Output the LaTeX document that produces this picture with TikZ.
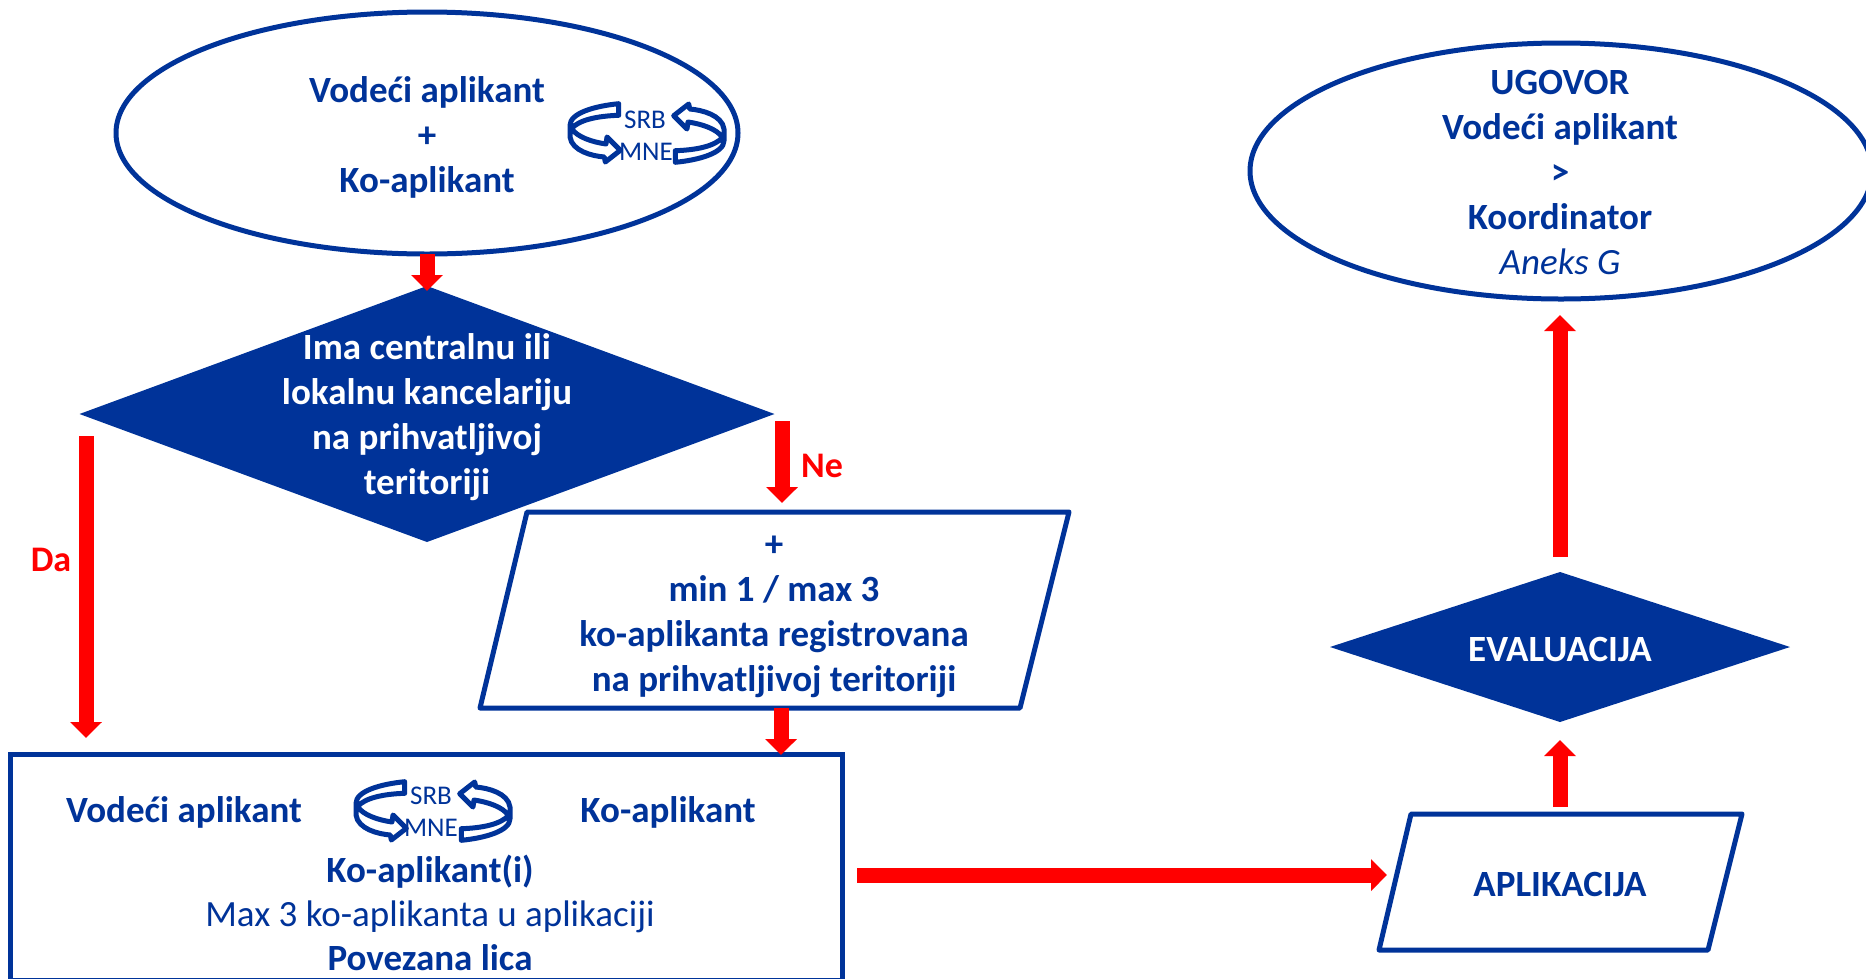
\documentclass[tikz,border=0pt]{standalone}
\usepackage{fontspec}
\setmainfont{Carlito}
\usetikzlibrary{shapes.geometric,arrows.meta}
\definecolor{ipablue}{HTML}{003399}
\definecolor{flowred}{HTML}{FF0000}
\tikzset{
  x=1pt,y=-1pt,
  outline/.style={draw=ipablue,line width=5pt,fill=white,inner sep=0pt,outer sep=0pt},
  oval/.style={outline,ellipse},
  frame/.style={outline,rectangle},
  slanted/.style={draw=ipablue,line width=5pt,fill=white,line join=round},
  decision/.style={diamond,fill=ipablue,inner sep=0pt,outer sep=0pt},
  bluetext/.style={text=ipablue,font=\fontsize{37}{45}\selectfont\bfseries,align=center,inner sep=0pt},
  whitetext/.style={text=white,font=\fontsize{37}{45}\selectfont\bfseries,align=center,inner sep=0pt},
  plaintext/.style={text=ipablue,font=\fontsize{37}{45}\selectfont,align=center,inner sep=0pt},
  flowlabel/.style={text=flowred,font=\fontsize{36}{38}\selectfont\bfseries,inner sep=0pt},
  icontext/.style={text=ipablue,font=\fontsize{27}{27}\selectfont,inner sep=0pt},
  flow/.style={draw=flowred,line width=15pt,-{Triangle[width=31pt,length=16pt,fill=flowred]}},
  swirl/.pic={
    \foreach \r in {0,180}{
      \draw[ipablue,line width=5pt,line join=round,rotate=\r]
        (-28.3,-29.3) .. controls (-52,-27) and (-77,-20) .. (-77,-7.7)
        -- (-77,4) .. controls (-75,18) and (-55,23) .. (-42.7,24)
        -- (-41.7,29) -- (-26.7,17.3) -- (-40,4) -- (-41,11)
        .. controls (-55,9) and (-70,4) .. (-75.5,-4.5)
        .. controls (-68,-13) and (-50,-17) .. (-28.3,-17.7) -- cycle;
    }
  }
}
\begin{document}
\begin{tikzpicture}
\useasboundingbox (0,0) rectangle (1866,978);

% shapes
\node[oval,minimum width=622pt,minimum height=242pt] (start) at (427,133) {};
\node[decision,minimum width=695pt,minimum height=256pt] (check) at (427,414) {};
\coordinate (coA) at (527,512);
\coordinate (coB) at (1069,512);
\coordinate (coC) at (1020,708);
\coordinate (coD) at (480,708);
\draw[slanted] (coA) -- (coB) -- (coC) -- (coD) -- cycle;
\node[frame,minimum width=832pt,minimum height=226pt] (team) at (426,867) {};
\coordinate (apA) at (1411,814);
\coordinate (apB) at (1742,814);
\coordinate (apC) at (1708,950);
\coordinate (apD) at (1379,950);
\draw[slanted] (apA) -- (apB) -- (apC) -- (apD) -- cycle;
\node[decision,minimum width=460pt,minimum height=150pt] (eval) at (1560,647) {};
\node[oval,minimum width=622pt,minimum height=256pt] (contract) at (1561,171) {};

% texts
\node[bluetext] (startT) at (427,137) {Vodeći aplikant\\+\\Ko-aplikant};
\node[whitetext] (checkT) at (427,417) {Ima centralnu ili\\lokalnu kancelariju\\na prihvatljivoj\\teritoriji};
\node[bluetext] (coappT) at (774,617) {+\\min 1 / max 3\\ko-aplikanta registrovana\\na prihvatljivoj teritoriji};
\node[bluetext] (lead) at (184,812) {Vodeći aplikant};
\node[bluetext] (co) at (668,812) {Ko-aplikant};
\node[bluetext] (coi) at (430,872) {Ko-aplikant(i)};
\node[plaintext] (max) at (430,917) {Max 3 ko-aplikanta u aplikaciji};
\node[bluetext] (rel) at (430,958) {Povezana lica};
\node[bluetext] (applT) at (1560,884) {APLIKACIJA};
\node[whitetext] (evalT) at (1560,649) {EVALUACIJA};
\node[bluetext] (contractT) at (1560,172) {UGOVOR\\Vodeći aplikant\\>\\Koordinator\\{\mdseries\itshape Aneks G}};

% exchange icons
\pic at (647,133) {swirl};
\node[icontext] (srbA) at (645,120) {SRB};
\node[icontext] (mneA) at (646,152) {MNE};
\pic at (433,811) {swirl};
\node[icontext] (srbB) at (431,796) {SRB};
\node[icontext] (mneB) at (431,828) {MNE};

% connector ends
\coordinate (daS) at (86,436);
\coordinate (daE) at (86,738);
\coordinate (neS) at (782,421);
\coordinate (neE) at (782,503);
\coordinate (joinS) at (781,708);
\coordinate (joinE) at (781,755);
\coordinate (goS) at (857,875);
\coordinate (goE) at (1387,875);
\coordinate (upS) at (1560,807);
\coordinate (upE) at (1560,740);
\coordinate (signS) at (1560,557);
\coordinate (signE) at (1560,315);

% connectors
\draw[flow,shorten >=-5pt] (start.south) -- (check.north);
\draw[flow] (daS) -- (daE);
\draw[flow] (neS) -- (neE);
\draw[flow] (joinS) -- (joinE);
\draw[flow] (goS) -- (goE);
\draw[flow] (upS) -- (upE);
\draw[flow] (signS) -- (signE);

\node[flowlabel] (da) at (51,560) {Da};
\node[flowlabel] (ne) at (822,466) {Ne};
\end{tikzpicture}
\end{document}
